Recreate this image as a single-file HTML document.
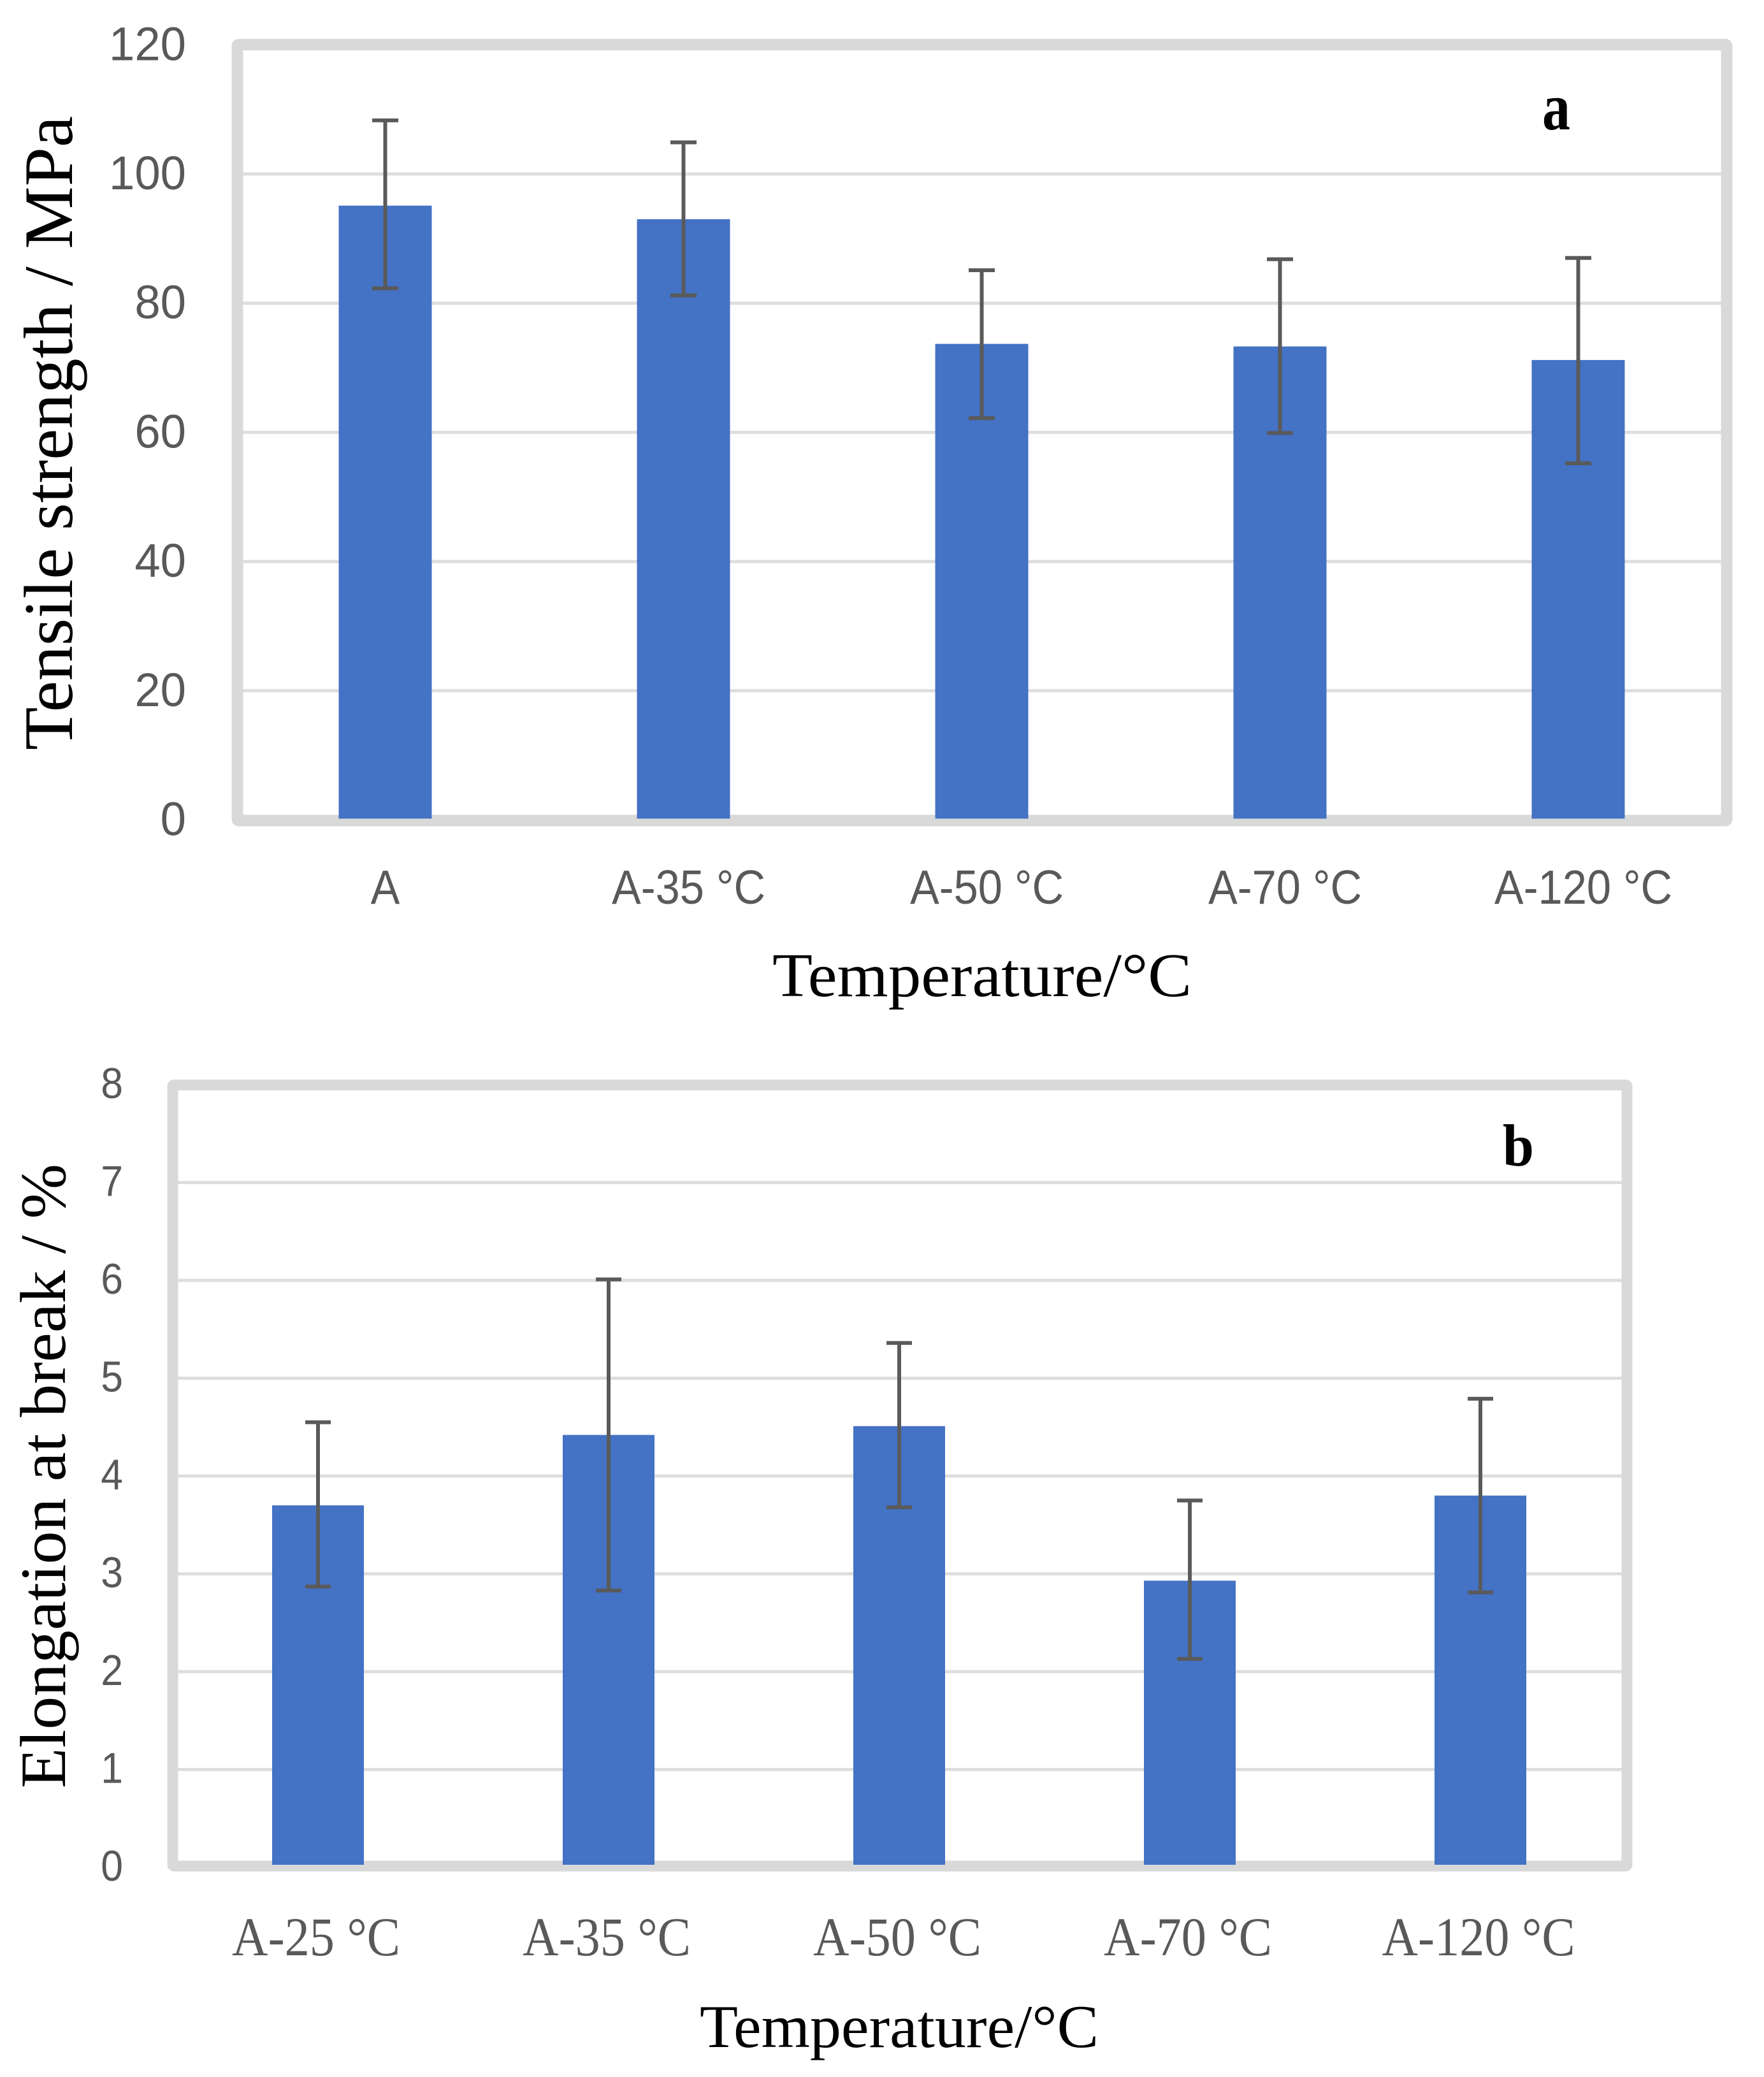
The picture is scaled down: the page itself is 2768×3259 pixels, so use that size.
<!DOCTYPE html>
<html lang="en">
<head>
<meta charset="utf-8">
<title>Tensile strength and elongation at break</title>
<style>
html,body{margin:0;padding:0;background:#fff;}
svg{display:block;}
.serif{font-family:"Liberation Serif",serif;fill:#000;}
.sans{font-family:"Liberation Sans",sans-serif;fill:#595959;}
.cat-serif{font-family:"Liberation Serif",serif;fill:#595959;}
</style>
</head>
<body>
<svg id="figure" xmlns="http://www.w3.org/2000/svg" width="2768" height="3259" viewBox="0 0 2768 3259">
  <rect width="2768" height="3259" fill="#ffffff"/>
  <g id="chart-a"></g>
  <g id="chart-b"></g>

  <text class="serif" transform="translate(113,1177) rotate(-90)" font-size="109" textLength="995" lengthAdjust="spacingAndGlyphs">Tensile strength / MPa</text>
  <text class="serif" x="1212" y="1563" font-size="97" textLength="658" lengthAdjust="spacingAndGlyphs">Temperature/°C</text>
  <text class="serif" x="2420" y="203" font-size="105" font-weight="bold" textLength="44" lengthAdjust="spacingAndGlyphs">a</text>

  <text class="serif" transform="translate(102,2806) rotate(-90)" font-size="102" textLength="980" lengthAdjust="spacingAndGlyphs">Elongation at break / %</text>
  <text class="serif" x="1098" y="3212" font-size="95" textLength="626" lengthAdjust="spacingAndGlyphs">Temperature/°C</text>
  <text class="serif" x="2358" y="1829" font-size="93" font-weight="bold" textLength="49" lengthAdjust="spacingAndGlyphs">b</text>
</svg>

<script>
// Panel a data
const categoriesA = ['A', 'A-35 °C', 'A-50 °C', 'A-70 °C', 'A-120 °C'];
const tensileStrength = [95.1, 93.0, 73.7, 73.3, 71.2];
const tensileUpper = [108.3, 104.9, 85.1, 86.8, 87.0];
const tensileLower = [82.3, 81.2, 62.2, 59.9, 55.2];
const tickLabelsA = [0, 20, 40, 60, 80, 100, 120];

// Panel b data
const categoriesB = ['A-25 °C', 'A-35 °C', 'A-50 °C', 'A-70 °C', 'A-120 °C'];
const elongation = [3.70, 4.42, 4.51, 2.93, 3.80];
const elongationUpper = [4.55, 6.01, 5.36, 3.75, 4.79];
const elongationLower = [2.87, 2.83, 3.68, 2.13, 2.81];
const tickLabelsB = [0, 1, 2, 3, 4, 5, 6, 7, 8];

const SVG_NS = 'http://www.w3.org/2000/svg';

function mk(parent, tag, attrs, text) {
  const el = document.createElementNS(SVG_NS, tag);
  for (const k in attrs) el.setAttribute(k, attrs[k]);
  if (text !== undefined) el.textContent = text;
  parent.appendChild(el);
  return el;
}

function drawChart(cfg) {
  const root = document.getElementById(cfg.id);
  const maxTick = cfg.ticks[cfg.ticks.length - 1];
  const yScale = v => cfg.y0 - (cfg.y0 - cfg.yMax) * v / maxTick;
  const xScale = i => cfg.x0 + cfg.step * i;

  // gridlines
  cfg.ticks.forEach(t => {
    if (t === 0 || t === maxTick) return;
    const line = mk(root, 'line', {
      x1: cfg.gridLeft, x2: cfg.gridRight, y1: yScale(t), y2: yScale(t),
      stroke: '#dedede', 'stroke-width': 5
    });
    
    
  });

  // plot frame
  const frame = mk(root, 'rect', {
    x: cfg.frame.x, y: cfg.frame.y, width: cfg.frame.w, height: cfg.frame.h,
    fill: 'none', stroke: '#d9d9d9', 'stroke-width': cfg.frame.sw, rx: 2
  });
  
  

  // y tick labels
  cfg.ticks.forEach(t => {
    const label = mk(root, 'text', {
      class: 'sans', 'text-anchor': 'end', 'font-size': cfg.tickSize,
      transform: 'translate(' + cfg.tickRight + ',' + (yScale(t) + cfg.tickDy) + ') scale(' + cfg.tickScale + ',1)'
    }, String(t));
    
    
  });

  // bars, error bars, category labels
  cfg.categories.forEach((c, i) => {
    const cx = xScale(i);
    const top = yScale(cfg.values[i]);
    const bar = mk(root, 'rect', {
      x: cx - cfg.barWidth / 2, y: top, width: cfg.barWidth, height: yScale(0) - cfg.barInset - top,
      fill: '#4472c4'
    });
    
    

    const up = yScale(cfg.upper[i]);
    const low = yScale(cfg.lower[i]);
    const stem = mk(root, 'line', {
      x1: cx, x2: cx, y1: up, y2: low, stroke: '#5a5a5a', 'stroke-width': 6
    });
    
    

    const capTop = mk(root, 'line', {
      x1: cx - cfg.capWidth / 2, x2: cx + cfg.capWidth / 2, y1: up, y2: up,
      stroke: '#5a5a5a', 'stroke-width': 6
    });
    
    

    const capLow = mk(root, 'line', {
      x1: cx - cfg.capWidth / 2, x2: cx + cfg.capWidth / 2, y1: low, y2: low,
      stroke: '#5a5a5a', 'stroke-width': 6
    });
    
    

    const lx = cx + (c.length > 1 ? cfg.labelDx : 0);
    const cat = mk(root, 'text', {
      class: cfg.catClass, 'text-anchor': 'middle', 'font-size': cfg.catSize,
      transform: 'translate(' + lx + ',' + cfg.catY + ') scale(' + cfg.catScale + ',1)'
    }, c);
    
    
  });
}

drawChart({
  id: 'chart-a', categories: categoriesA, values: tensileStrength,
  upper: tensileUpper, lower: tensileLower, ticks: tickLabelsA,
  y0: 1286.5, yMax: 70.3, x0: 604.5, step: 468, barWidth: 146, capWidth: 41, barInset: 2,
  gridLeft: 381, gridRight: 2701,
  frame: { x: 372.5, y: 70, w: 2337, h: 1217.5, sw: 18 },
  tickRight: 292, tickDy: 24, tickSize: 74, tickScale: 0.98,
  catClass: 'sans', catSize: 75, catScale: 0.915, catY: 1418, labelDx: 8
});

drawChart({
  id: 'chart-b', categories: categoriesB, values: elongation,
  upper: elongationUpper, lower: elongationLower, ticks: tickLabelsB,
  y0: 2930, yMax: 1702, x0: 499, step: 456, barWidth: 144, capWidth: 40, barInset: 4,
  gridLeft: 279, gridRight: 2545,
  frame: { x: 271, y: 1702.5, w: 2282, h: 1225.5, sw: 17 },
  tickRight: 193, tickDy: 21, tickSize: 68, tickScale: 0.92,
  catClass: 'cat-serif', catSize: 86, catScale: 0.91, catY: 3068, labelDx: -3
});
</script>
</body>
</html>
